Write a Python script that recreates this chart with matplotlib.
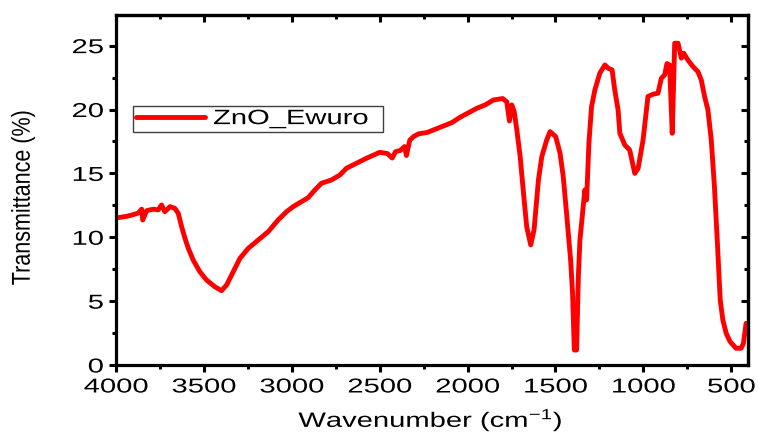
import matplotlib
matplotlib.use("Agg")
import matplotlib.pyplot as plt
from matplotlib.ticker import MultipleLocator, FixedLocator
from matplotlib.patheffects import AbstractPathEffect
from matplotlib.transforms import Affine2D

# ---- data ----
wavenumber = [4000, 3939, 3902, 3873, 3854, 3848, 3826, 3788, 3760, 3741, 3722, 3693,
              3665, 3646, 3627, 3608, 3589, 3561, 3523, 3485, 3438, 3400, 3371, 3333,
              3295, 3248, 3191, 3134, 3078, 3030, 2992, 2945, 2907, 2869, 2831, 2775,
              2727, 2689, 2633, 2576, 2500, 2457, 2429, 2410, 2382, 2359, 2348, 2329,
              2306, 2278, 2231, 2183, 2136, 2089, 2042, 2000, 1947, 1900, 1853, 1800,
              1777, 1762, 1749, 1735, 1720, 1701, 1682, 1664, 1641, 1622, 1597, 1578,
              1550, 1531, 1499, 1474, 1456, 1437, 1414, 1403, 1393, 1380, 1370, 1361,
              1342, 1333, 1323, 1310, 1295, 1276, 1248, 1219, 1200, 1178, 1163, 1144,
              1134, 1106, 1078, 1049, 1030, 1002, 983, 974, 945, 917, 898, 879, 866,
              851, 836, 822, 803, 784, 771, 747, 718, 690, 671, 652, 633, 614, 596,
              580, 563, 548, 529, 507, 473, 444, 431, 416]
transmittance = [11.51, 11.64, 11.77, 11.90, 12.20, 11.35, 12.08, 12.20, 12.14, 12.53, 12.00, 12.40,
                 12.26, 11.88, 10.84, 9.93, 9.15, 8.22, 7.30, 6.65, 6.13, 5.82, 6.26, 7.30,
                 8.35, 9.13, 9.79, 10.44, 11.35, 12.00, 12.40, 12.79, 13.10, 13.70, 14.23, 14.48,
                 14.87, 15.40, 15.79, 16.18, 16.65, 16.56, 16.20, 16.70, 16.80, 17.10, 16.40, 17.60,
                 17.90, 18.10, 18.20, 18.46, 18.72, 18.98, 19.40, 19.71, 20.10, 20.36, 20.75, 20.86,
                 20.60, 19.10, 20.36, 19.84, 18.40, 16.31, 13.45, 10.84, 9.40, 10.58, 14.49, 16.31,
                 17.62, 18.27, 17.88, 16.57, 14.75, 11.87, 8.22, 5.61, 1.17, 1.17, 6.92, 9.79,
                 12.40, 13.71, 12.92, 17.36, 20.23, 21.54, 22.84, 23.49, 23.23, 23.10, 21.54, 19.97,
                 18.14, 17.23, 16.83, 15.00, 15.40, 17.62, 19.97, 21.02, 21.20, 21.28, 22.45, 22.71, 23.60,
                 23.49, 18.14, 25.19, 25.19, 24.02, 24.41, 23.88, 23.36, 22.97, 22.32, 21.02, 19.97, 17.62, 13.97,
                 9.79, 5.09, 3.52, 2.48, 1.83, 1.31, 1.31, 1.70, 3.26]
series_label = "ZnO_Ewuro"
x_ticks = [4000, 3500, 3000, 2500, 2000, 1500, 1000, 500]
y_ticks = [0, 5, 10, 15, 20, 25]


class HStretch(AbstractPathEffect):
    """Draw text stretched horizontally (the reference's glyphs are wide)."""
    def __init__(self, sx=1.45, anchor="center"):
        super().__init__()
        self.sx = sx
        self.anchor = anchor

    def draw_path(self, renderer, gc, tpath, affine, rgbFace=None):
        ext = tpath.get_extents(affine)
        if self.anchor == "left":
            cx = ext.x0
        elif self.anchor == "right":
            cx = ext.x1
        else:
            cx = 0.5 * (ext.x0 + ext.x1)
        t = affine + Affine2D().translate(-cx, 0).scale(self.sx, 1.0).translate(cx, 0)
        renderer.draw_path(gc, tpath, t, rgbFace)


plt.rcParams["font.family"] = ["Liberation Sans", "DejaVu Sans"]
plt.rcParams["mathtext.default"] = "regular"

fig = plt.figure(figsize=(7.59, 4.37), dpi=100)
ax = fig.add_axes([116 / 759, 72 / 437, 632 / 759, 350 / 437])

ax.plot(wavenumber, transmittance, color="#ff0000", lw=3.5, label=series_label,
        solid_joinstyle="round", solid_capstyle="round")

ax.set_xlim(4000, 405)
ax.set_ylim(0, 27.4)
ax.xaxis.set_major_locator(FixedLocator(x_ticks))
ax.xaxis.set_minor_locator(MultipleLocator(250))
ax.yaxis.set_major_locator(FixedLocator(y_ticks))
ax.yaxis.set_minor_locator(MultipleLocator(2.5))

for s in ax.spines.values():
    s.set_linewidth(2.3)
    s.set_color("black")

ax.tick_params(which="major", direction="out", length=5, width=2.2, labelsize=14.5,
               top=False, right=False, pad=4)
ax.tick_params(which="minor", direction="out", length=3, width=2.2, top=False, right=False)

# mirrored inward ticks on top and right
secx = ax.secondary_xaxis("top")
secx.xaxis.set_major_locator(FixedLocator(x_ticks))
secx.xaxis.set_minor_locator(MultipleLocator(250))
secx.tick_params(which="major", direction="in", length=5, width=2.2, labeltop=False)
secx.tick_params(which="minor", direction="in", length=3, width=2.2)
secx.spines["top"].set_linewidth(2.3)
secy = ax.secondary_yaxis("right")
secy.yaxis.set_major_locator(FixedLocator(y_ticks))
secy.yaxis.set_minor_locator(MultipleLocator(2.5))
secy.tick_params(which="major", direction="in", length=5, width=2.2, labelright=False)
secy.tick_params(which="minor", direction="in", length=3, width=2.2)
secy.spines["right"].set_linewidth(2.3)

ax.set_xlabel("Wavenumber (cm$^{-1}$)", fontsize=15)
ax.set_ylabel("Transmittance (%)", fontsize=15.5)
ax.xaxis.label.set_va("center")
ax.yaxis.label.set_va("center")
ax.xaxis.set_label_coords(0.498, -0.158)
ax.yaxis.set_label_coords(-0.147, 0.477)

leg = ax.legend(loc="upper left", bbox_to_anchor=(0.027, 0.0, 0.396, 0.74),
                mode="expand", borderaxespad=0, fontsize=15, fancybox=False,
                edgecolor="#404040", framealpha=1, handlelength=3.3,
                handletextpad=0.4, borderpad=0.15)
leg.get_frame().set_linewidth(1.0)
leg.get_lines()[0].set_linewidth(3.5)

fig.canvas.draw()
for lbl in ax.get_xticklabels():
    lbl.set_path_effects([HStretch(1.45, "center")])
for lbl in ax.get_yticklabels():
    lbl.set_path_effects([HStretch(1.45, "right")])
ax.xaxis.label.set_path_effects([HStretch(1.4, "center")])
ax.yaxis.label.set_path_effects([HStretch(1.2, "center")])
for t in leg.get_texts():
    t.set_path_effects([HStretch(1.4, "left")])

fig.savefig("out.png", dpi=100)
